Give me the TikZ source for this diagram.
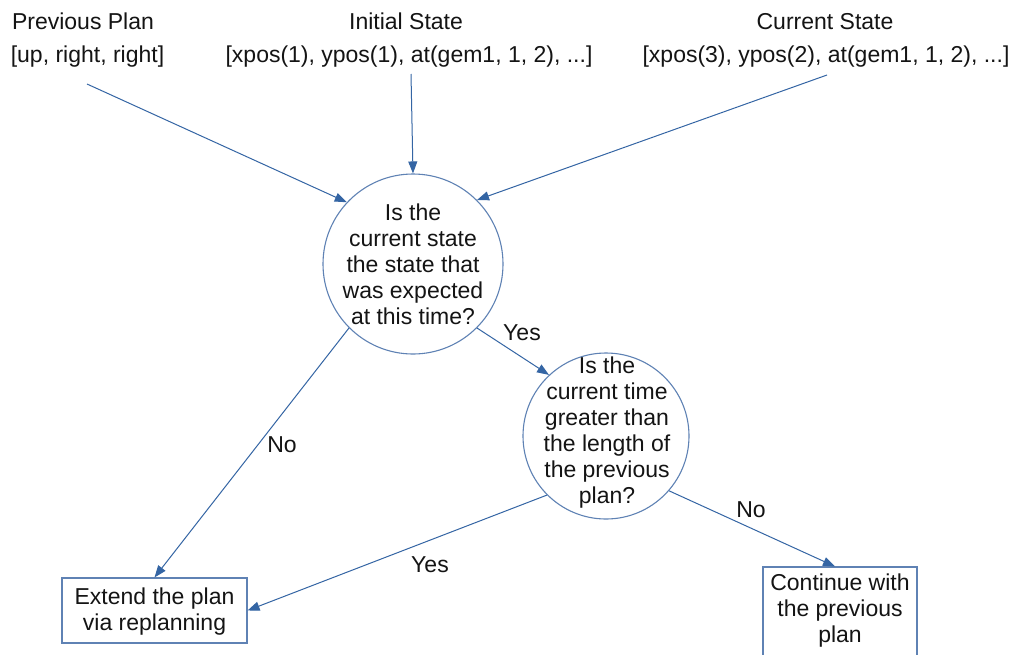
\documentclass[tikz,border=0pt]{standalone}
\usepackage{fontspec}
\setmainfont{Liberation Sans}
\usetikzlibrary{arrows.meta}
\definecolor{lineblue}{RGB}{52,101,164}
\definecolor{shapeblue}{RGB}{95,130,180}
\definecolor{txt}{RGB}{20,20,20}
\tikzset{
  lbl/.style={font=\fontsize{23}{26}\selectfont, text=txt, inner sep=0pt},
  blocktext/.style={lbl, align=center},
  decision/.style={draw=shapeblue, line width=1.1pt, circle, inner sep=0pt},
  actionbox/.style={draw=shapeblue, line width=1.1pt, rectangle, inner sep=0pt},
  flow/.style={draw=lineblue, line width=1pt, -{Triangle[length=12pt,width=9pt]}},
}
\begin{document}
\begin{tikzpicture}[x=1pt,y=-1pt]
\useasboundingbox (0,0) rectangle (1015,654);
\clip (0,0) rectangle (1015,654);
\fill[white] (0,0) rectangle (1015,654);

% top inputs
\node[lbl, anchor=base] (pptitle) at (83,29) {Previous Plan};
\node[lbl, anchor=base] (pplist) at (87.5,62) {[up, right, right]};
\node[lbl, anchor=base] (istitle) at (406,29) {Initial State};
\node[lbl, anchor=base] (islist) at (409,62) {[xpos(1), ypos(1), at(gem1, 1, 2), ...]};
\node[lbl, anchor=base] (cstitle) at (825,29) {Current State};
\node[lbl, anchor=base] (cslist) at (826,62) {[xpos(3), ypos(2), at(gem1, 1, 2), ...]};

\coordinate (s1) at (87,84);
\coordinate (s2) at (411,74);
\coordinate (s3) at (827,75);

% decisions
\node[decision, minimum size=180pt] (c1) at (413,264) {};
\node[blocktext] (c1t) at (413,264) {Is the\\current state\\the state that\\was expected\\at this time?};
\node[decision, minimum size=166pt] (c2) at (606,436) {};
\node[blocktext] (c2t) at (607,433) {Is the\\current time\\greater than\\the length of\\the previous\\plan?};

% actions
\node[actionbox, minimum width=185pt, minimum height=65pt] (b1) at (154.5,610.5) {};
\node[blocktext] (b1t) at (154.5,612) {Extend the plan\\via replanning};
\node[actionbox, minimum width=154pt, minimum height=100pt] (b2) at (840,617) {};
\node[blocktext] (b2t) at (840,611) {Continue with\\the previous\\plan};

% connectors
\draw[flow] (s1) -- (c1.137);
\draw[flow] (s2) -- (c1.north);
\draw[flow] (s3) -- (c1.45);
\draw[flow] (c1.225) -- (b1.north);
\draw[flow] (c1.-45) -- (c2.133);
\draw[flow] (c2.225) -- (b1.east);
\draw[flow] (c2.-41) -- ([xshift=-5pt]b2.north);

% edge labels
\node[lbl] (no1) at (282,445) {No};
\node[lbl] (yes1) at (522,333) {Yes};
\node[lbl] (yes2) at (430,565) {Yes};
\node[lbl] (no2) at (751,510) {No};
\end{tikzpicture}
\end{document}
